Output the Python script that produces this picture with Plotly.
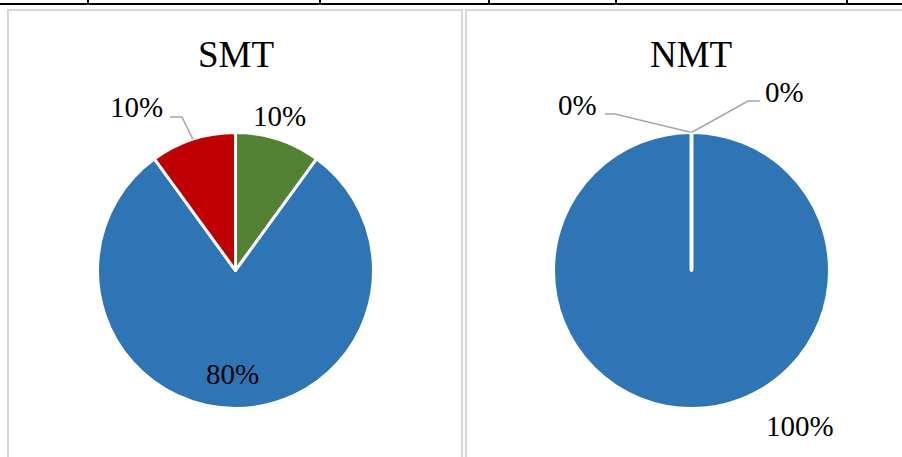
import math
import plotly.graph_objects as go

# ---- data ----
categories = ["Nhóm 1", "Nhóm 2", "Nhóm 3"]
smt_values = [10, 80, 10]
nmt_values = [0, 100, 0]
chart_titles = ["SMT", "NMT"]

# ---- styling ----
W, H = 902, 457
slice_colors = ["#548235", "#2E75B6", "#C00000"]
FONT = "Liberation Serif"
LEADER = "#A6A6A6"


def px(x):
    return x / W


def py(y):
    return 1 - y / H


# pie geometry in page pixels (centre x, centre y, radius)
pies = [
    dict(cx=235.5, cy=270.5, r=138, values=smt_values, title=chart_titles[0], tx=236),
    dict(cx=691.5, cy=270.5, r=138, values=nmt_values, title=chart_titles[1], tx=691),
]

fig = go.Figure()
for p in pies:
    fig.add_trace(go.Pie(
        labels=categories,
        values=p["values"],
        sort=False,
        direction="clockwise",
        rotation=0,
        marker=dict(colors=slice_colors, line=dict(color="white", width=3)),
        textinfo="none",
        hoverinfo="label+percent",
        showlegend=False,
        domain=dict(x=[px(p["cx"] - p["r"]), px(p["cx"] + p["r"])],
                    y=[py(p["cy"] + p["r"]), py(p["cy"] - p["r"])]),
    ))


def slice_angles(values):
    """Start, middle and end angle (degrees clockwise from 12 o'clock) of each slice."""
    total = sum(values)
    out, acc = [], 0.0
    for v in values:
        a0 = acc / total * 360
        acc += v
        a1 = acc / total * 360
        out.append((a0, (a0 + a1) / 2, a1))
    return out


def edge_point(p, ang, k=1.0):
    a = math.radians(ang)
    return p["cx"] + k * p["r"] * math.sin(a), p["cy"] - k * p["r"] * math.cos(a)


def pct(values, i):
    return f"{round(values[i] / sum(values) * 100)}%"


# label placement (page pixels) and optional leader elbows for each slice
label_layout = [
    [  # SMT
        dict(pos=(279, 116)),
        dict(pos=(232, 374)),
        dict(pos=(136, 107), elbow=(182, 117), end=(170, 117)),
    ],
    [  # NMT
        dict(pos=(784, 92), elbow=(748, 101), end=(760, 101)),
        dict(pos=(800, 426)),
        dict(pos=(577, 105), elbow=(615, 114), end=(605, 114)),
    ],
]

shapes = []
annotations = []

# table rule across the top with its column ticks
shapes.append(dict(type="line", xref="paper", yref="paper",
                   x0=px(0), x1=px(W), y0=py(4), y1=py(4),
                   line=dict(color="black", width=2)))
for tx in [88, 320, 489, 616, 847]:
    shapes.append(dict(type="line", xref="paper", yref="paper",
                       x0=px(tx), x1=px(tx), y0=py(0), y1=py(4),
                       line=dict(color="black", width=2)))

# chart frames
for x0, x1 in [(8, 462), (466, 930)]:
    shapes.append(dict(type="rect", xref="paper", yref="paper",
                       x0=px(x0), x1=px(x1), y0=py(10), y1=py(480),
                       line=dict(color="#D6D6D6", width=2)))

for p, layout in zip(pies, label_layout):
    vals = p["values"]
    angs = slice_angles(vals)
    # title
    annotations.append(dict(text=p["title"], xref="paper", yref="paper",
                            x=px(p["tx"]), y=py(55), showarrow=False,
                            xanchor="center", yanchor="middle",
                            font=dict(family=FONT, size=37, color="black")))
    for i, spec in enumerate(layout):
        annotations.append(dict(text=pct(vals, i), xref="paper", yref="paper",
                                x=px(spec["pos"][0]), y=py(spec["pos"][1]),
                                showarrow=False, xanchor="center", yanchor="middle",
                                font=dict(family=FONT, size=29, color="black")))
        if "elbow" in spec:
            sx, sy = edge_point(p, angs[i][1], 1.0)
            ex, ey = spec["elbow"]
            fx, fy = spec["end"]
            path = f"M {px(sx)},{py(sy)} L {px(ex)},{py(ey)} L {px(fx)},{py(fy)}"
            shapes.append(dict(type="path", xref="paper", yref="paper", path=path,
                               line=dict(color=LEADER, width=1.5)))
    # slice boundary at the start angle when a single slice fills the whole pie
    if max(vals) == sum(vals):
        bx, by = edge_point(p, angs[0][0], 1.0)
        shapes.append(dict(type="line", xref="paper", yref="paper",
                           x0=px(p["cx"]), y0=py(p["cy"]), x1=px(bx), y1=py(by),
                           line=dict(color="white", width=4)))

fig.update_layout(
    width=W, height=H,
    margin=dict(l=0, r=0, t=0, b=0),
    paper_bgcolor="white",
    plot_bgcolor="white",
    shapes=shapes,
    annotations=annotations,
)

fig.write_html("out.html")
